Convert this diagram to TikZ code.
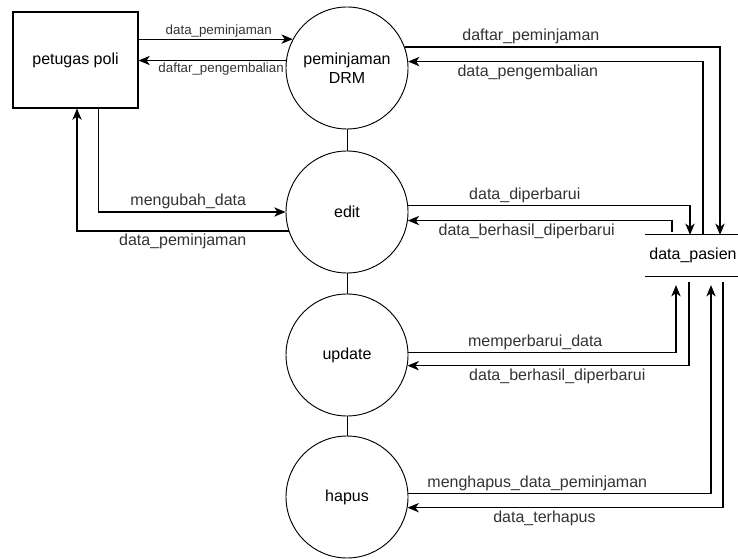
\documentclass[tikz,border=0pt]{standalone}
\usepackage{fontspec}
\setmainfont{Liberation Sans}
\usetikzlibrary{positioning, arrows.meta, calc}

\begin{document}
\begin{tikzpicture}[x=0.75pt, y=-0.75pt,
    proc/.style={draw, circle, line width=0.7pt, minimum size=91.5pt, inner sep=0pt, align=center, font=\fontsize{12}{14}\selectfont},
    entity/.style={draw, rectangle, line width=0.8pt, minimum width=93.75pt, minimum height=72pt, font=\fontsize{12}{14}\selectfont},
    store/.style={minimum width=66pt, minimum height=30.5pt, font=\fontsize{12}{14}\selectfont},
    flow/.style={-{Stealth[length=8.5pt, width=7pt, inset=2.5pt]}, line width=0.8pt},
    plain/.style={line width=0.8pt},
    lbl/.style={font=\fontsize{12}{14}\selectfont, text=black!80, inner sep=2pt},
    slbl/.style={font=\fontsize{10}{12}\selectfont, text=black!80, inner sep=1pt}]
    \useasboundingbox (0,0) rectangle (738,559);

    % Entity, processes and store
    \node[entity] (petugas) at (75.5,60) {petugas poli};
    \node[proc] (pinjam) at (347,68) {peminjaman\\DRM};
    \node[proc] (edit) at (347,212) {edit};
    \node[proc] (update) at (347,355) {update};
    \node[proc] (hapus) at (347,497) {hapus};
    \node[store] (pasien) at (693,255.5) {data\_pasien};
    \draw[plain] (pasien.north west) -- (pasien.north east);
    \draw[plain] (pasien.south west) -- (pasien.south east);

    % Links between processes
    \draw[line width=0.7pt] (pinjam.south) -- (edit.north);
    \draw[line width=0.7pt] (edit.south) -- (update.north);
    \draw[line width=0.7pt] (update.south) -- (hapus.north);

    % Flows with petugas poli
    \draw[flow] (pinjam.152 -| petugas.east) -- node[slbl, above, pos=0.52] {data\_peminjaman} (pinjam.152);
    \draw[flow] (pinjam.173) -- node[slbl, below, pos=0.44] {daftar\_pengembalian} (pinjam.173 -| petugas.east);
    \draw[flow] ($(petugas.south)+(23,0)$) |- node[lbl, above, pos=0.74] {mengubah\_data} (edit.west);
    \draw[flow] (edit.198) -| node[lbl, below, pos=0.25] {data\_peminjaman} ($(petugas.south)+(1.5,0)$);

    % Flows with data_pasien (top)
    \draw[flow] (pinjam.20) -| node[lbl, above, pos=0.2] {daftar\_peminjaman} ($(pasien.north)+(27,0)$);
    \draw[flow] ($(pasien.north)+(10,0)$) |- node[lbl, below, pos=0.797] {data\_pengembalian} (pinjam.6);
    \draw[flow] (edit.6) -| node[lbl, above, pos=0.207] {data\_diperbarui} ($(pasien.north)+(-3,0)$);
    \draw[flow] ($(pasien.north)+(-21,-3)$) |- node[lbl, below, pos=0.775] {data\_berhasil\_diperbarui} (edit.-8);

    % Flows with data_pasien (bottom)
    \draw[flow] (update.2) -| node[lbl, above, pos=0.237] {memperbarui\_data} ($(pasien.south)+(-17,9)$);
    \draw[flow] ($(pasien.south)+(-4,6)$) |- node[lbl, below, pos=0.734] {data\_berhasil\_diperbarui} (update.-10);
    \draw[flow] (hapus.3) -| node[lbl, above, pos=0.213] {menghapus\_data\_peminjaman} ($(pasien.south)+(18,9)$);
    \draw[flow] ($(pasien.south)+(30,6)$) |- node[lbl, below, pos=0.783] {data\_terhapus} (hapus.-10);
\end{tikzpicture}
\end{document}
